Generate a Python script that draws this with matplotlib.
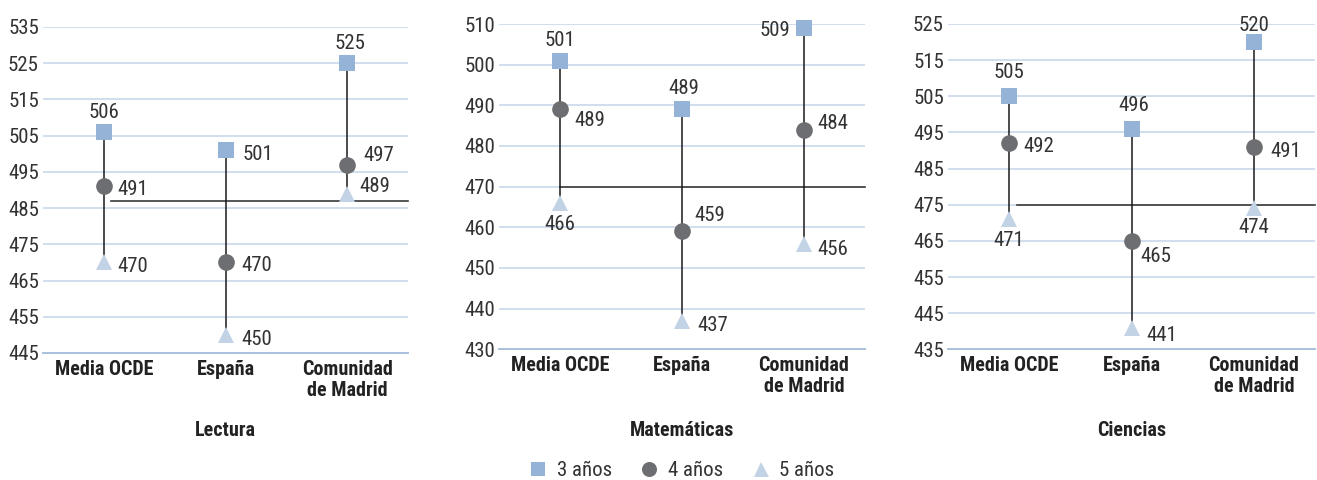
import matplotlib
matplotlib.use("Agg")
import matplotlib.pyplot as plt
from matplotlib.lines import Line2D

plt.rcParams['font.family'] = ['Roboto Condensed', 'Liberation Sans Narrow', 'Liberation Sans', 'DejaVu Sans']

# ---- data ----
categories = ["Media OCDE", "España", "Comunidad\nde Madrid"]
subjects = ["Lectura", "Matemáticas", "Ciencias"]
series_names = ["3 años", "4 años", "5 años"]

lectura_3 = [506, 501, 525]
lectura_4 = [491, 470, 497]
lectura_5 = [470, 450, 489]
mat_3 = [501, 489, 509]
mat_4 = [489, 459, 484]
mat_5 = [466, 437, 456]
cien_3 = [505, 496, 520]
cien_4 = [492, 465, 491]
cien_5 = [471, 441, 474]
ref_values = [487, 470, 475]

y_ticks = [
    [445, 455, 465, 475, 485, 495, 505, 515, 525, 535],
    [430, 440, 450, 460, 470, 480, 490, 500, 510],
    [435, 445, 455, 465, 475, 485, 495, 505, 515, 525],
]

panels = [
    (lectura_3, lectura_4, lectura_5),
    (mat_3, mat_4, mat_5),
    (cien_3, cien_4, cien_5),
]

# ---- style / layout ----
W, H = 1317, 480
axes_px = [  # left, right, top, bottom in pixels
    (43, 408, 27, 353),
    (499, 865, 24, 349.3),
    (948, 1315, 24, 349.3),
]
ref_start = [0.06, 0.0, 0.06]

# label placement: (dx_px, dy_px, ha) for series 3,4,5 per category
label_pos = [
    [  # Lectura
        [(0, 20, 'center'), (14, -3, 'left'), (14, -4, 'left')],
        [(17, -4, 'left'), (16, -3, 'left'), (16, -5, 'left')],
        [(3, 20, 'center'), (16, 9, 'left'), (12, 7, 'left')],
    ],
    [  # Matemáticas
        [(0, 20, 'center'), (14, -11, 'left'), (0, -22, 'center')],
        [(2, 21, 'center'), (12, 16, 'left'), (15, -5, 'left')],
        [(-14, -2, 'right'), (13, 6, 'left'), (13, -6, 'left')],
    ],
    [  # Ciencias
        [(0, 24, 'center'), (14, -3, 'left'), (0, -21, 'center')],
        [(2, 23, 'center'), (9, -16, 'left'), (15, -8, 'left')],
        [(0, 17, 'center'), (17, -5, 'left'), (0, -19, 'center')],
    ],
]

c_sq = '#95B3D7'
c_ci = '#6D6E71'
c_tr = '#C3D3E6'
c_grid = '#C8D8EA'
c_text = '#333333'
markers = [('s', c_sq, 11), ('o', c_ci, 12), ('^', c_tr, 12)]
fs_num = 15
fs_cat = 14.5

fig = plt.figure(figsize=(W / 100, H / 100), dpi=100)

for i, (vals, yt, subj) in enumerate(zip(panels, y_ticks, subjects)):
    l, r, t, b = axes_px[i]
    ax = fig.add_axes([l / W, 1 - b / H, (r - l) / W, (b - t) / H])
    ax.set_xlim(-0.5, 2.5)
    ax.set_ylim(yt[0], yt[-1])
    ax.set_yticks(yt)
    ax.set_yticklabels([str(v) for v in yt], fontsize=fs_num, color=c_text)
    for y in yt[1:]:
        ax.axhline(y, color=c_grid, lw=1.2, zorder=0)
    for s in ['top', 'right', 'left']:
        ax.spines[s].set_visible(False)
    ax.spines['bottom'].set_color('#A9C0DA')
    ax.spines['bottom'].set_linewidth(1.4)
    ax.tick_params(axis='y', length=0, pad=3)
    ax.tick_params(axis='x', length=0, pad=5)
    ax.set_xticks(range(len(categories)))
    ax.set_xticklabels(categories, fontsize=fs_cat, fontweight='bold', color='#222222',
                       linespacing=1.15)

    # reference line
    ax.plot([ref_start[i], 2.5], [ref_values[i]] * 2, color='#3A3A3A', lw=1.2, zorder=1,
            clip_on=False)

    for j in range(len(categories)):
        col = [v[j] for v in vals]
        ax.plot([j, j], [min(col), max(col)], color='#1A1A1A', lw=1.1, zorder=2)
        for k, (m, c, ms) in enumerate(markers):
            ax.plot(j, col[k], marker=m, color=c, ms=ms, mec=c, mew=0,
                    zorder=3 + k, clip_on=False, linestyle='none')
            dx, dy, ha = label_pos[i][j][k]
            ax.annotate(str(col[k]), (j, col[k]), xytext=(dx, dy),
                        textcoords='offset pixels', ha=ha, va='center',
                        fontsize=fs_num, color=c_text, zorder=10, annotation_clip=False)

    fig.text((l + r) / 2 / W, 1 - 431 / H, subj, ha='center', va='center',
             fontsize=fs_cat, fontweight='bold', color='#222222')

handles = [Line2D([], [], marker=m, color=c, ms=ms * 0.9, mew=0, linestyle='none')
           for (m, c, ms) in markers]
fig.legend(handles, series_names, loc='center', bbox_to_anchor=(680 / W, 1 - 471 / H),
           ncol=3, frameon=False, fontsize=fs_num, handletextpad=0.3, columnspacing=1.2,
           handlelength=1.2, labelcolor=c_text)

fig.savefig('out.png', dpi=100)
